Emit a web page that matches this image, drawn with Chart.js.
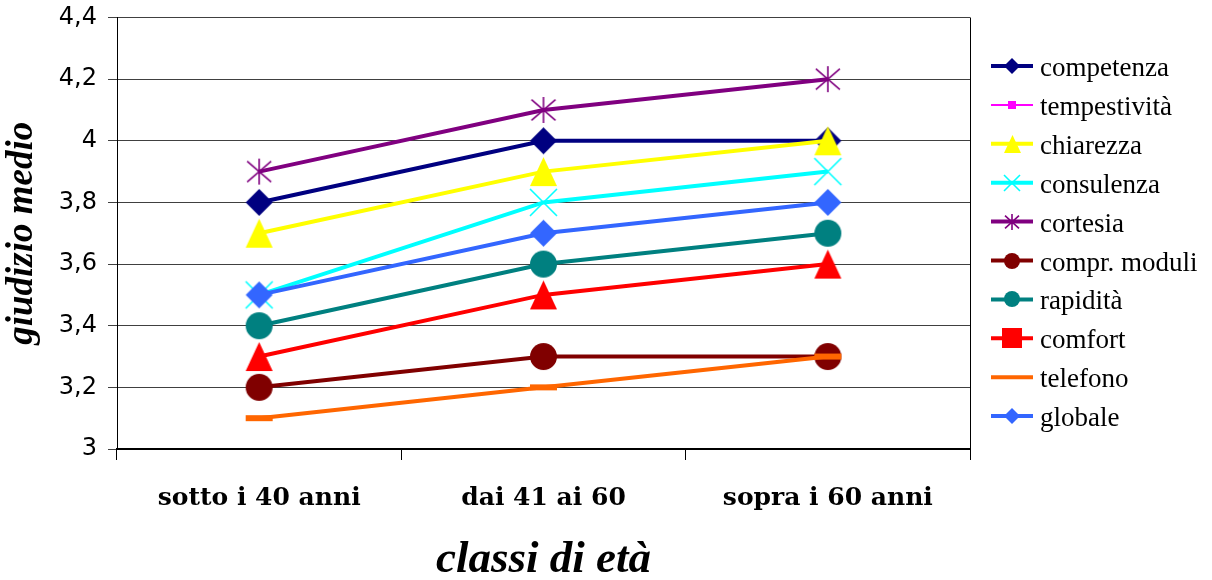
<!DOCTYPE html>
<html><head><meta charset="utf-8">
<script src="https://cdn.jsdelivr.net/npm/chart.js@4"></script>
<style>html,body{margin:0;padding:0;background:#fff}#wrap{width:1212px;height:580px;position:relative}</style>
</head><body><div id="wrap"><canvas id="c"></canvas></div>
<script>
// ---- data ----
const categories = ['sotto i 40 anni', 'dai 41 ai 60', 'sopra i 60 anni'];
const seriesNames = ['competenza', 'tempestività', 'chiarezza', 'consulenza', 'cortesia', 'compr. moduli', 'rapidità', 'comfort', 'telefono', 'globale'];
const competenza   = [3.8, 4.0, 4.0];
const tempestivita = [3.5, 3.7, 3.8];
const chiarezza    = [3.7, 3.9, 4.0];
const consulenza   = [3.5, 3.8, 3.9];
const cortesia     = [3.9, 4.1, 4.2];
const comprModuli  = [3.2, 3.3, 3.3];
const rapidita     = [3.4, 3.6, 3.7];
const comfort      = [3.3, 3.5, 3.6];
const telefono     = [3.1, 3.2, 3.3];
const globale      = [3.5, 3.7, 3.8];
const yTicks = [3, 3.2, 3.4, 3.6, 3.8, 4, 4.2, 4.4];
const xTitle = 'classi di età';
const yTitle = 'giudizio medio';
const seriesValues = [competenza, tempestivita, chiarezza, consulenza, cortesia, comprModuli, rapidita, comfort, telefono, globale];

// ---- styles ----
const styles = [
  {color:'#000080', shape:'diamond',  size:27, lw:4, lShape:'diamond',  lSize:16},
  {color:'#FF00FF', shape:'square',   size:8,  lw:2, lShape:'square',   lSize:8},
  {color:'#FFFF00', shape:'triangle', size:27, lw:4, lShape:'triangle', lSize:17},
  {color:'#00FFFF', shape:'x',        size:27, lw:4, lShape:'x',        lSize:16},
  {color:'#800080', shape:'star',     size:26, lw:4, lShape:'star',     lSize:16},
  {color:'#800000', shape:'circle',   size:27, lw:4, lShape:'circle',   lSize:16},
  {color:'#008080', shape:'circle',   size:27, lw:4, lShape:'circle',   lSize:16},
  {color:'#FF0000', shape:'triangle', size:27, lw:4, lShape:'square',   lSize:20},
  {color:'#FF6600', shape:'dash',     size:27, lw:4, lShape:null,       lSize:0},
  {color:'#3366FF', shape:'diamond',  size:27, lw:4, lShape:'diamond',  lSize:16}
];

function makeMarker(shape, color, size) {
  const pad = 2;
  let w = size, h = size;
  if (shape === 'triangle') h = Math.round(size * 1.08);
  if (shape === 'dash') h = 6;
  const c = document.createElement('canvas');
  c.width = w + pad * 2; c.height = h + pad * 2;
  const g = c.getContext('2d');
  g.translate(pad, pad);
  g.fillStyle = color; g.strokeStyle = color;
  switch (shape) {
    case 'circle': g.beginPath(); g.arc(w/2, h/2, w/2, 0, Math.PI*2); g.fill(); break;
    case 'diamond': g.beginPath(); g.moveTo(w/2,0); g.lineTo(w,h/2); g.lineTo(w/2,h); g.lineTo(0,h/2); g.closePath(); g.fill(); break;
    case 'square': case 'dash': g.fillRect(0,0,w,h); break;
    case 'triangle': g.beginPath(); g.moveTo(w/2,0); g.lineTo(w,h); g.lineTo(0,h); g.closePath(); g.fill(); break;
    case 'x': g.lineWidth = 1.6; g.beginPath(); g.moveTo(0,0); g.lineTo(w,h); g.moveTo(w,0); g.lineTo(0,h); g.stroke(); break;
    case 'star': g.lineWidth = 1.6; g.beginPath(); g.moveTo(w/2,0); g.lineTo(w/2,h); g.moveTo(1,h*0.1); g.lineTo(w-1,h*0.9); g.moveTo(w-1,h*0.1); g.lineTo(1,h*0.9); g.stroke(); break;
  }
  return c;
}

const n = seriesNames.length;
const datasets = seriesNames.map((name, i) => {
  const st = styles[i];
  return {
    label: name,
    data: seriesValues[i],
    borderColor: st.color,
    backgroundColor: st.color,
    borderWidth: st.lw,
    pointStyle: makeMarker(st.shape, st.color, st.size),
    pointRadius: st.size / 2,
    pointHoverRadius: st.size / 2,
    tension: 0,
    fill: false,
    order: n - i,
    legendMarker: st.lShape ? makeMarker(st.lShape, st.color, st.lSize) : null
  };
});

const frame = {
  id: 'frame',
  beforeDatasetsDraw(chart) {
    const {ctx, chartArea: a} = chart;
    ctx.save();
    ctx.strokeStyle = '#000'; ctx.lineWidth = 1;
    ctx.beginPath();
    ctx.moveTo(Math.round(a.right) + 0.5, a.top);
    ctx.lineTo(Math.round(a.right) + 0.5, a.bottom);
    ctx.stroke();
    ctx.restore();
  }
};

const xlLegend = {
  id: 'xlLegend',
  afterDraw(chart) {
    const {ctx, chartArea: a} = chart;
    const x0 = a.right + 21, x1 = a.right + 63, xm = a.right + 42, xt = a.right + 70;
    ctx.save();
    chart.data.datasets.forEach((ds, i) => {
      const y = 66 + i * 38.9;
      ctx.strokeStyle = ds.borderColor; ctx.lineWidth = ds.borderWidth;
      ctx.beginPath(); ctx.moveTo(x0, y); ctx.lineTo(x1, y); ctx.stroke();
      if (ds.legendMarker) {
        const m = ds.legendMarker;
        ctx.drawImage(m, Math.round(xm - m.width / 2), Math.round(y - m.height / 2));
      }
      ctx.fillStyle = '#000';
      ctx.font = '27px "Liberation Serif"';
      ctx.textBaseline = 'alphabetic';
      ctx.textAlign = 'left';
      ctx.fillText(ds.label, xt, y + 10);
    });
    ctx.restore();
  }
};

new Chart(document.getElementById('c'), {
  type: 'line',
  data: { labels: categories, datasets },
  plugins: [frame, xlLegend],
  options: {
    responsive: true,
    maintainAspectRatio: false,
    animation: false,
    events: [],
    layout: { padding: { top: 17, right: 242, left: 0, bottom: 0 } },
    plugins: { legend: { display: false }, tooltip: { enabled: false } },
    scales: {
      x: {
        type: 'category',
        offset: true,
        grid: { display: true, offset: true, drawOnChartArea: false, drawTicks: true, tickLength: 11, color: '#000', lineWidth: 1 },
        border: { display: true, color: '#000', width: 2 },
        ticks: { color: '#000', font: { family: 'DejaVu Serif', weight: 'bold', size: 25 }, padding: 23, maxRotation: 0, autoSkip: false },
        title: { display: true, text: xTitle, color: '#000', font: { family: 'Liberation Serif', style: 'italic', weight: 'bold', size: 45, lineHeight: 0.88 }, padding: { top: 0, bottom: 0 } },
        afterFit: s => { s.height = 131; s.paddingLeft = 0; s.paddingRight = 0; }
      },
      y: {
        min: 3, max: 4.4,
        afterBuildTicks: s => { s.ticks = yTicks.map(v => ({ value: v })); },
        grid: { color: '#404040', lineWidth: 1, tickLength: 9, drawTicks: true },
        border: { color: '#000', width: 1 },
        ticks: { color: '#000', font: { family: 'DejaVu Sans', size: 24 }, padding: 11,
                 callback: v => String(Math.round(v * 10) / 10).replace('.', ',') },
        title: { display: true, text: yTitle, color: '#000', font: { family: 'Liberation Serif', style: 'italic', weight: 'bold', size: 37, lineHeight: 1 }, padding: { top: 4, bottom: 0 } },
        afterFit: s => { s.width = 117; s.paddingTop = 0; s.paddingBottom = 0; }
      }
    }
  }
});
</script>
</body></html>
